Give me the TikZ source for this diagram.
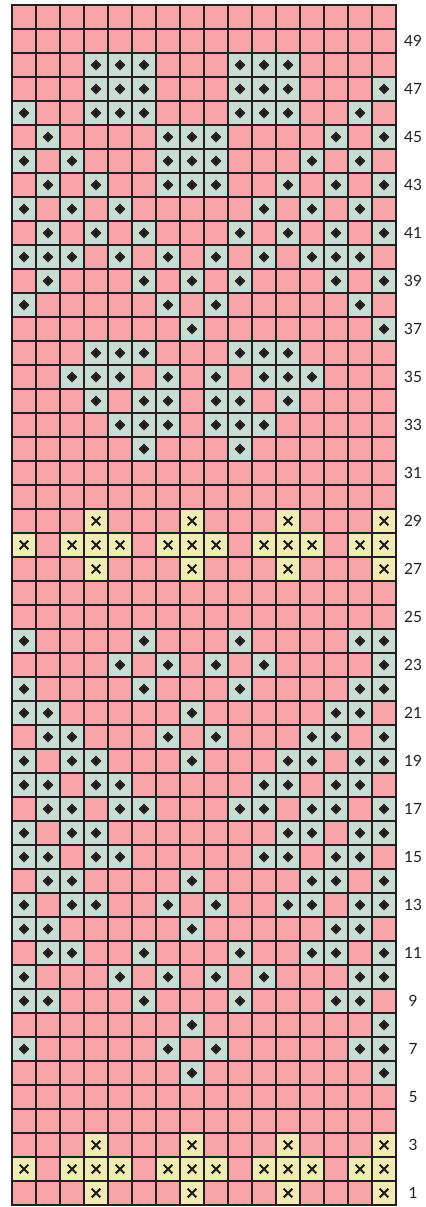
\documentclass[tikz,border=0pt]{standalone}
\usepackage{fontspec}
\setsansfont{Lato}
\definecolor{rose}{HTML}{F6A4A7}
\definecolor{sage}{HTML}{C9DCD1}
\definecolor{straw}{HTML}{F1ECB6}
\definecolor{ink}{HTML}{231F20}
\tikzset{
  gridline/.style={draw=ink, line width=0.9pt, line cap=rect},
  sagecell/.style={fill=sage},
  strawcell/.style={fill=straw},
  dotmark/.style={fill=ink},
  crossmark/.style={draw=ink, line width=1.5pt},
  rowlabel/.style={font=\sffamily\fontsize{11}{13}\selectfont, text=ink, inner sep=0pt}
}
\begin{document}
\begin{tikzpicture}[x=0.6cm,y=0.6cm]
\useasboundingbox (-0.5,-0.083) rectangle (17.208,50.208);
\fill[rose] (0,0) rectangle (16,50);
% diamond stitches
\foreach \r/\cols in {48/{4,5,6,10,11,12}, 47/{4,5,6,10,11,12,16}, 46/{1,4,5,6,10,11,12,15},
  45/{2,7,8,9,14,16}, 44/{1,3,7,8,9,13,15}, 43/{2,4,7,8,9,12,14,16}, 42/{1,3,5,11,13,15},
  41/{2,4,6,10,12,14,16}, 40/{1,2,3,5,7,9,11,13,14,15}, 39/{2,6,8,10,14,16}, 38/{1,7,9,15},
  37/{8,16}, 36/{4,5,6,10,11,12}, 35/{3,4,5,7,9,11,12,13}, 34/{4,6,7,9,10,12},
  33/{5,6,7,9,10,11}, 32/{6,10},
  24/{1,6,10,15,16}, 23/{5,7,9,11,16}, 22/{1,6,10,15,16}, 21/{1,2,8,14,15},
  20/{2,3,7,9,13,14,16}, 19/{1,3,4,8,12,13,15,16}, 18/{1,2,4,5,11,12,14,15},
  17/{2,3,5,6,10,11,13,14,16}, 16/{1,3,4,12,13,15,16}, 15/{1,2,4,5,11,12,14,15},
  14/{2,3,8,13,14,16}, 13/{1,3,4,7,9,12,13,15,16}, 12/{1,2,8,14,15},
  11/{2,3,6,10,13,14,16}, 10/{1,5,7,9,11,15,16}, 9/{1,2,6,10,14,15},
  8/{8,16}, 7/{1,7,9,15,16}, 6/{8,16}}{
  \foreach \c in \cols {
    \fill[sagecell] (\c-1,\r-1) rectangle (\c,\r);
    \fill[dotmark] (\c-0.5,\r-0.28) -- (\c-0.28,\r-0.5) -- (\c-0.5,\r-0.72) -- (\c-0.72,\r-0.5) -- cycle;
  }
}
% cross stitches
\foreach \r/\cols in {29/{4,8,12,16}, 28/{1,3,4,5,7,8,9,11,12,13,15,16}, 27/{4,8,12,16},
  3/{4,8,12,16}, 2/{1,3,4,5,7,8,9,11,12,13,15,16}, 1/{4,8,12,16}}{
  \foreach \c in \cols {
    \fill[strawcell] (\c-1,\r-1) rectangle (\c,\r);
    \draw[crossmark] (\c-0.68,\r-0.68) -- (\c-0.32,\r-0.32) (\c-0.68,\r-0.32) -- (\c-0.32,\r-0.68);
  }
}
% grid
\foreach \c in {0,...,16} \draw[gridline] (\c,0) -- (\c,50);
\foreach \r in {0,...,50} \draw[gridline] (0,\r) -- (16,\r);
% row numbers
\foreach \r in {1,3,...,49} \node[rowlabel] (row\r) at (16.71,\r-0.5) {\r};
\end{tikzpicture}
\end{document}
